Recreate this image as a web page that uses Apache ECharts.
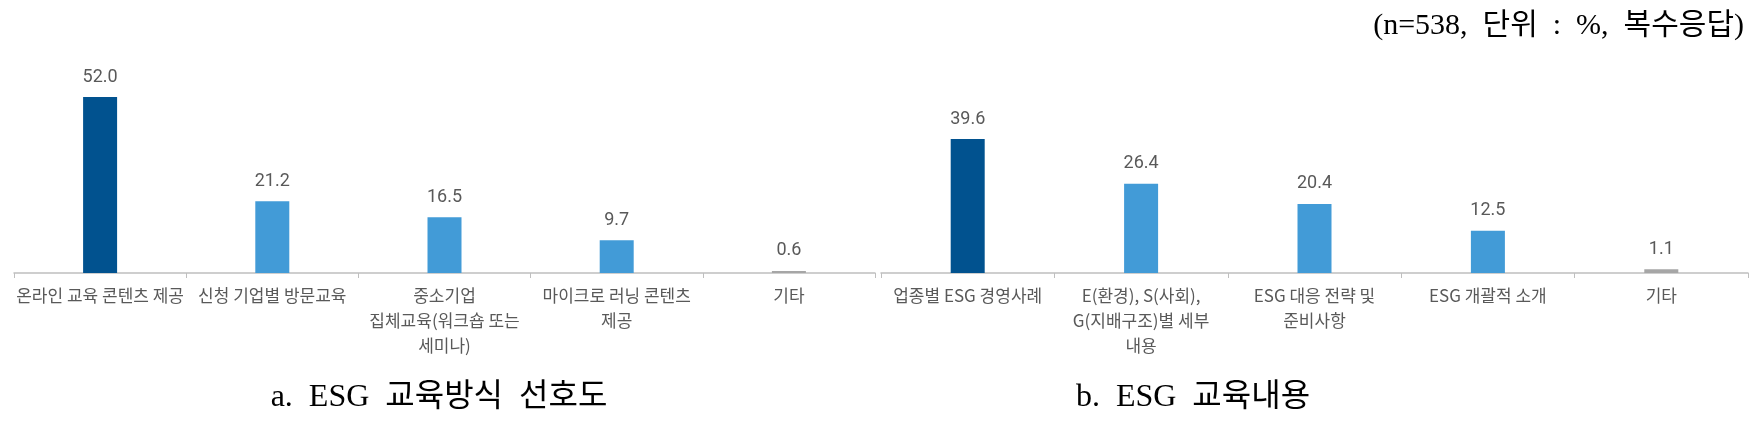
<!DOCTYPE html>
<html>
<head>
<meta charset="utf-8">
<script src="https://cdn.jsdelivr.net/npm/echarts@6/dist/echarts.min.js"></script>
<style>
html, body { margin: 0; padding: 0; background: #fff; }
#main { width: 1749px; height: 423px; }
</style>
</head>
<body>
<div id="main"></div>
<script>
// a. ESG 교육방식 선호도
var catsA = ['온라인 교육 콘텐츠 제공', '신청 기업별 방문교육', '중소기업\n집체교육(워크숍 또는\n세미나)', '마이크로 러닝 콘텐츠\n제공', '기타'];
var valsA = [52.0, 21.2, 16.5, 9.7, 0.6];
// b. ESG 교육내용
var catsB = ['업종별 ESG 경영사례', 'E(환경), S(사회),\nG(지배구조)별 세부\n내용', 'ESG 대응 전략 및\n준비사항', 'ESG 개괄적 소개', '기타'];
var valsB = [39.6, 26.4, 20.4, 12.5, 1.1];

var barColors = ['#01528f', '#429bd7', '#429bd7', '#429bd7', '#a6a6a6'];
var sansFont = '"Noto Sans CJK KR", "Noto Sans", sans-serif';
var serifFont = '"Liberation Serif", "DejaVu Serif", "Noto Sans CJK KR", serif';

function coloured(vals) {
    return vals.map(function (v, i) {
        return { value: v, itemStyle: { color: barColors[i] } };
    });
}

function xAx(idx, cats) {
    return {
        type: 'category',
        gridIndex: idx,
        data: cats,
        axisLine: { lineStyle: { color: '#bfbfbf', width: 1.5 } },
        axisTick: { show: true, length: 5, lineStyle: { color: '#bfbfbf' } },
        axisLabel: {
            interval: 0,
            color: '#595959',
            fontSize: 17,
            lineHeight: 25,
            margin: 10,
            fontFamily: sansFont
        }
    };
}

function yAx(idx) {
    return {
        type: 'value',
        gridIndex: idx,
        min: 0,
        max: 60,
        show: false,
        splitLine: { show: false }
    };
}

function barSeries(idx, vals) {
    return {
        type: 'bar',
        xAxisIndex: idx,
        yAxisIndex: idx,
        barWidth: 34,
        data: coloured(vals),
        label: {
            show: true,
            position: 'top',
            distance: 11,
            color: '#595959',
            fontSize: 18,
            fontFamily: 'Roboto, "Liberation Sans", sans-serif',
            formatter: function (p) { return p.value.toFixed(1); }
        }
    };
}

var chart = echarts.init(document.getElementById('main'));
var option = {
    backgroundColor: '#fff',
    animation: false,
    grid: [
        { left: 14, width: 861, top: 70, bottom: 150 },
        { left: 881, width: 867, top: 70, bottom: 150 }
    ],
    xAxis: [xAx(0, catsA), xAx(1, catsB)],
    yAxis: [yAx(0), yAx(1)],
    series: [barSeries(0, valsA), barSeries(1, valsB)],
    graphic: [
        {
            type: 'text', x: 439, y: 398,
            style: { text: 'a.  ESG  교육방식  선호도', fontSize: 32, fontFamily: serifFont, fill: '#000', align: 'center', verticalAlign: 'middle' }
        },
        {
            type: 'text', x: 1193, y: 398,
            style: { text: 'b.  ESG  교육내용', fontSize: 32, fontFamily: serifFont, fill: '#000', align: 'center', verticalAlign: 'middle' }
        },
        {
            type: 'text', x: 1744, y: 26,
            style: { text: '(n=538,  단위  :  %,  복수응답)', fontSize: 30, fontFamily: serifFont, fill: '#000', align: 'right', verticalAlign: 'middle' }
        }
    ]
};
chart.setOption(option);
</script>
</body>
</html>
